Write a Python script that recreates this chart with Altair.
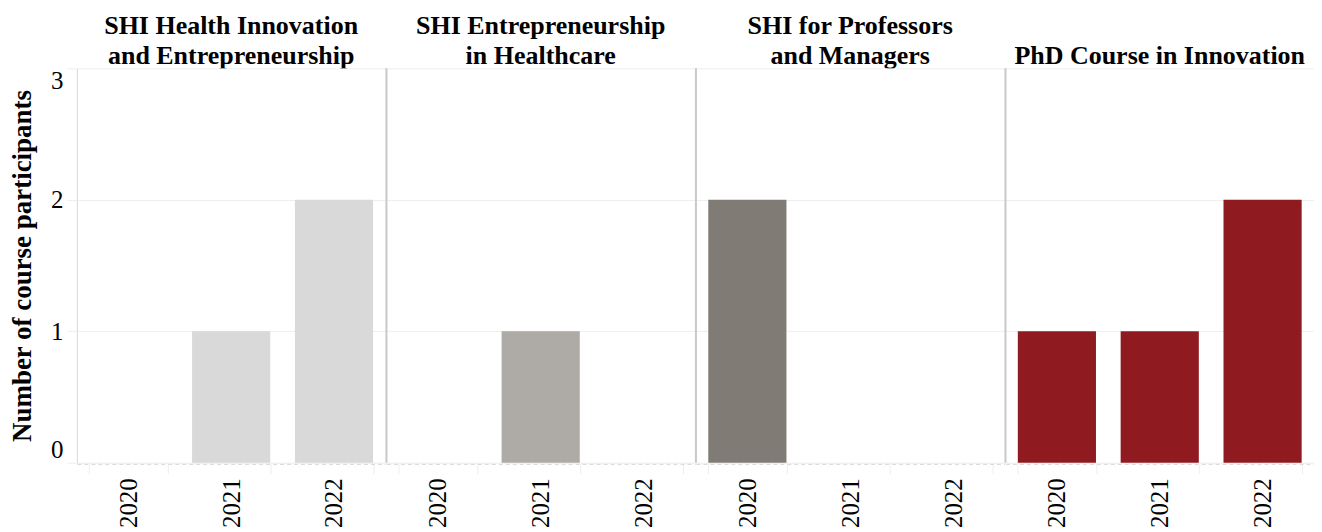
import altair as alt
import pandas as pd

courses = [
    "SHI Health Innovation\nand Entrepreneurship",
    "SHI Entrepreneurship\nin Healthcare",
    "SHI for Professors\nand Managers",
    "PhD Course in Innovation",
]
years = ["2020", "2021", "2022"]
values = [
    [0, 1, 2],
    [0, 1, 0],
    [2, 0, 0],
    [1, 1, 2],
]
colors = ["#d9d9d9", "#aeaaa5", "#807b74", "#8f1b20"]

rows = []
for c, vals in zip(courses, values):
    for y, v in zip(years, vals):
        rows.append({"course": c, "year": y, "n": v})
df = pd.DataFrame(rows)

FONT = "Liberation Serif"
H = 395

bars = alt.Chart().mark_bar().encode(
    x=alt.X("year:N", title=None, scale=alt.Scale(paddingInner=0.24, paddingOuter=0.12),
            axis=alt.Axis(labelAngle=-90, labelFont=FONT, labelFontSize=25, labelColor="#000",
                          domainColor="#cccccc", domainDash=[4, 3], tickColor="#eeeeee",
                          tickSize=10, tickBand="extent", labelPadding=4)),
    y=alt.Y("n:Q", title="Number of course participants",
            scale=alt.Scale(domain=[0, 3]),
            axis=alt.Axis(values=[0, 1, 2, 3], labelFont=FONT, labelFontSize=25, labelColor="#000",
                          titleFont=FONT, titleFontSize=27, titleFontWeight="bold", titleColor="#000",
                          domain=True, domainColor="#d8d8d8", gridColor="#eeeeee",
                          tickColor="#eeeeee", tickSize=10, labelFlush=True, titlePadding=14,
                          labelPadding=4)),
    color=alt.Color("course:N", scale=alt.Scale(domain=courses, range=colors), legend=None),
)

sep = alt.Chart().mark_rule(color="#c8c8c8", strokeWidth=2).encode(
    x=alt.value(0), y=alt.value(0), y2=alt.value(H)
).transform_filter(alt.datum.course != courses[0]).transform_aggregate(
    cnt="count()", groupby=["course"]
)

chart = alt.layer(bars, sep, data=df).properties(width=309, height=H).facet(
    column=alt.Column("course:N", sort=courses, title=None,
                      header=alt.Header(labelFont=FONT, labelFontSize=26, labelFontWeight="bold",
                                        labelColor="#000", labelExpr="split(datum.label, '\\n')",
                                        labelBaseline="alphabetic", labelPadding=-23,
                                        labelLineHeight=30)),
    spacing=0,
).configure(
    padding={"left": 0, "top": 5, "right": 0, "bottom": 0},
    view=alt.ViewConfig(stroke=None),
)

chart.save("out.html", embed_options={"renderer": "svg", "actions": False})
